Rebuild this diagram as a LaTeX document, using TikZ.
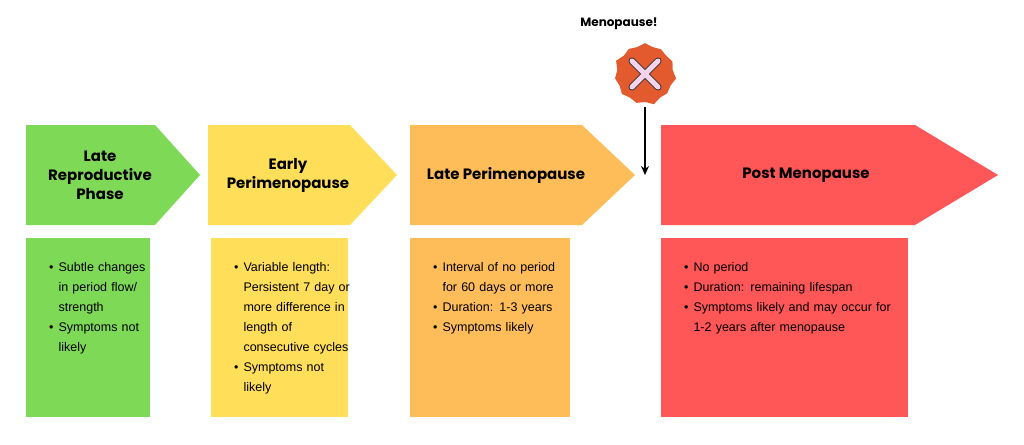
\documentclass[tikz,border=0pt]{standalone}
\usepackage{fontspec}
\setmainfont{Liberation Sans}
\newfontfamily\headfont{Poppins}
\usetikzlibrary{shapes.symbols,arrows.meta,positioning}
\definecolor{phaseGreen}{HTML}{7ED957}
\definecolor{phaseYellow}{HTML}{FFDE59}
\definecolor{phaseOrange}{HTML}{FFBD59}
\definecolor{phaseRed}{HTML}{FF5757}
\definecolor{badgeRed}{HTML}{E35A2E}
\definecolor{crossPink}{HTML}{F3D3EC}
\begin{document}
\begin{tikzpicture}[x=1pt, y=-1pt,
    head/.style={font=\headfont\bfseries\fontsize{15}{19}\selectfont, align=center, text=black},
    info/.style={anchor=north west, font=\fontsize{12.5}{20}\selectfont, align=left, text width=#1},
    infobox/.style={draw=none}
  ]
  \useasboundingbox (0,0) rectangle (1024,444);

  % phase arrows
  \fill[phaseGreen]  (26,125) -- (155,125) -- (200,175) -- (155,225) -- (26,225) -- cycle;
  \fill[phaseYellow] (208,125) -- (350,125) -- (397,175) -- (350,225) -- (208,225) -- cycle;
  \fill[phaseOrange] (410,125) -- (582,125) -- (635,175) -- (582,225) -- (410,225) -- cycle;
  \fill[phaseRed]    (661,125) -- (915,125) -- (998,175) -- (915,225) -- (661,225) -- cycle;

  \node (late) [head] at (100,175) {Late\\Reproductive\\Phase};
  \node (early) [head] at (288,175) {Early\\Perimenopause};
  \node (lateperi) [head] at (506,175) {Late Perimenopause};
  \node (post) [head] at (806,175) {Post Menopause};

  % detail boxes
  \fill[phaseGreen]  (26,238) rectangle (150,417);
  \fill[phaseYellow] (211,238) rectangle (348,417);
  \fill[phaseOrange] (410,238) rectangle (570,417);
  \fill[phaseRed]    (661,238) rectangle (908,417);

  \node (greeninfo) [info=118pt] at (30,240) {
    \begin{itemize}\setlength{\itemsep}{0pt}\setlength{\parskip}{0pt}\setlength{\leftmargin}{14pt}
      \item Subtle changes in period flow/ strength
      \item Symptoms not likely
    \end{itemize}};
  \node (yellowinfo) [info=132pt] at (215,240) {
    \begin{itemize}\setlength{\itemsep}{0pt}\setlength{\parskip}{0pt}
      \item Variable length: Persistent 7 day or more difference in length of consecutive cycles
      \item Symptoms not likely
    \end{itemize}};
  \node (orangeinfo) [info=150pt] at (414,240) {
    \begin{itemize}\setlength{\itemsep}{0pt}\setlength{\parskip}{0pt}
      \item Interval of no period for 60 days or more
      \item Duration: 1-3 years
      \item Symptoms likely
    \end{itemize}};
  \node (redinfo) [info=240pt] at (665,240) {
    \begin{itemize}\setlength{\itemsep}{0pt}\setlength{\parskip}{0pt}
      \item No period
      \item Duration: remaining lifespan
      \item Symptoms likely and may occur for 1-2 years after menopause
    \end{itemize}};

  % menopause marker
  \node (title) [font=\headfont\bfseries\fontsize{12}{14}\selectfont] at (619,24) {Menopause!};
  \node (badge) [starburst, starburst points=11, starburst point height=4pt, fill=badgeRed,
                 minimum size=64pt, inner sep=0pt] at (645,74) {};
  \draw[line width=7pt, draw=black!80, line cap=round]
    (632,61) -- (658,87) (658,61) -- (632,87);
  \draw[line width=5pt, draw=crossPink, line cap=round]
    (632,61) -- (658,87) (658,61) -- (632,87);
  \coordinate (drop) at (645,175);
  \draw[line width=2pt, -{Stealth[length=9pt,width=8pt]}] (645,107) -- (drop);
\end{tikzpicture}
\end{document}
